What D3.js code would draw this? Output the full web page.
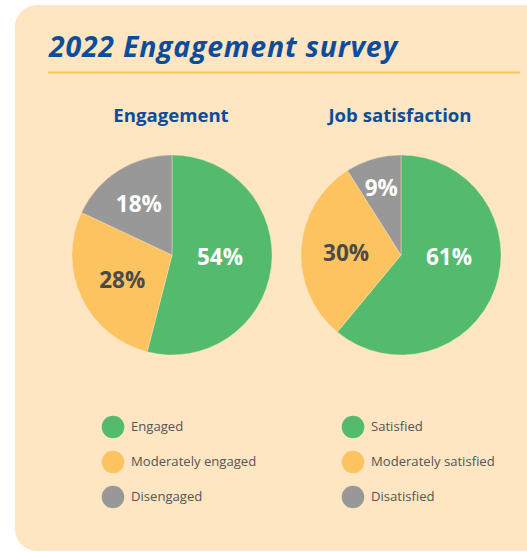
<!DOCTYPE html>
<html>
<head>
<meta charset="utf-8">
<script src="https://cdn.jsdelivr.net/npm/d3@7"></script>
<style>
  html, body { margin: 0; padding: 0; background: #ffffff; }
  svg { display: block; }
  text { font-family: "Open Sans", "Noto Sans", sans-serif; }
</style>
</head>
<body>
<div id="chart"></div>
<script>
// Survey results, one pie per question
const title = "2022 Engagement survey";
const chartTitles = ["Engagement", "Job satisfaction"];
const engagementLabels = ["Engaged", "Moderately engaged", "Disengaged"];
const engagementValues = [54, 28, 18];
const satisfactionLabels = ["Satisfied", "Moderately satisfied", "Disatisfied"];
const satisfactionValues = [61, 30, 9];
const sliceColors = ["#54bb6e", "#fdc360", "#989898"];
const labelColors = ["#ffffff", "#4a4a4a", "#ffffff"];

const W = 527, H = 552;
const svg = d3.select("#chart").append("svg")
  .attr("width", W).attr("height", H);

// Panel
svg.append("rect")
  .attr("x", 15).attr("y", 5)
  .attr("width", W + 30).attr("height", 546)
  .attr("rx", 22).attr("ry", 22)
  .attr("fill", "#fde6c1");

// Heading and rule
svg.append("text")
  .attr("x", 49).attr("y", 57)
  .attr("font-size", 28.5)
  .attr("font-weight", 700)
  .attr("font-style", "italic")
  .attr("letter-spacing", 0.75)
  .attr("fill", "#0d4c9b")
  .text(title);

svg.append("line")
  .attr("x1", 48).attr("x2", 520)
  .attr("y1", 72.5).attr("y2", 72.5)
  .attr("stroke", "#fdc35a").attr("stroke-width", 2);

const charts = [
  { title: chartTitles[0], labels: engagementLabels, values: engagementValues, cx: 172, legendX: 113 },
  { title: chartTitles[1], labels: satisfactionLabels, values: satisfactionValues, cx: 401, legendX: 353 }
];

const radius = 100, cy = 255;
const pie = d3.pie().sort(null).value(d => d);
const arc = d3.arc().innerRadius(0).outerRadius(radius);

charts.forEach(c => {
  const g = svg.append("g");

  g.append("text")
    .attr("x", c.cx - 1).attr("y", 122)
    .attr("text-anchor", "middle")
    .attr("font-size", 18.6)
    .attr("font-weight", 700)
    .attr("fill", "#0d4c9b")
    .text(c.title);

  const pg = g.append("g").attr("transform", `translate(${c.cx},${cy})`);
  const arcs = pie(c.values);

  pg.selectAll("path").data(arcs).join("path")
    .attr("d", arc)
    .attr("fill", (d, i) => sliceColors[i])
    .attr("stroke", "#fde6c1")
    .attr("stroke-width", 0.4);

  // Value labels: the largest slice is labelled on the horizontal axis,
  // smaller slices sit further out toward the rim
  pg.selectAll("text.val").data(arcs).join("text")
    .attr("class", "val")
    .attr("text-anchor", "middle")
    .attr("dominant-baseline", "central")
    .attr("font-size", 22.5)
    .attr("font-weight", 700)
    .attr("fill", (d, i) => labelColors[i])
    .attr("transform", (d, i) => {
      const share = d.value / d3.sum(c.values);
      let a = (d.startAngle + d.endAngle) / 2;
      let r;
      if (i === 0 && d.startAngle <= Math.PI / 2 && d.endAngle >= Math.PI / 2) {
        a = Math.PI / 2; r = radius * 0.48;
      } else {
        r = radius * Math.max(0.55, 0.8 - share);
      }
      return `translate(${r * Math.sin(a)},${-r * Math.cos(a) + 1})`;
    })
    .text(d => d.value + "%");

  // Legend
  const lg = g.append("g");
  const items = lg.selectAll("g").data(c.labels).join("g")
    .attr("transform", (d, i) => `translate(${c.legendX},${427 + i * 35})`);
  items.append("circle")
    .attr("r", 11.3)
    .attr("fill", (d, i) => sliceColors[i]);
  items.append("text")
    .attr("x", 18).attr("y", -1)
    .attr("dominant-baseline", "central")
    .attr("font-size", 13.1)
    .attr("fill", "#555555")
    .text(d => d);
});
</script>
</body>
</html>
